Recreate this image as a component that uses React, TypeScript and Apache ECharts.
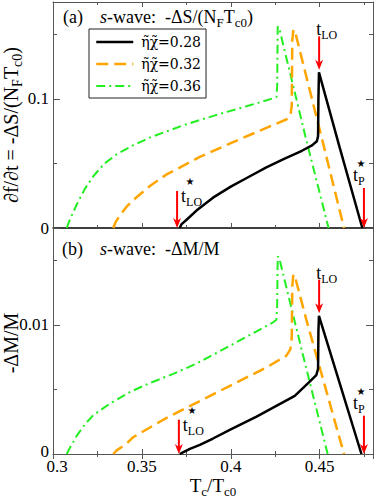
import React, { useEffect, useRef } from "react";
import * as echarts from "echarts";

// ---------- data ----------
const seriesNames = ["η̃χ̃=0.28", "η̃χ̃=0.32", "η̃χ̃=0.36"];
const seriesColors = ["#000000", "#ffa500", "#22ee22"];

// panel (a): -ΔS/(N_F T_c0) vs T_c/T_c0
const entropy028: [number, number][] = [
  [0.3713, 0], [0.3722, 0.0028], [0.375, 0.0062], [0.3807, 0.0135], [0.39, 0.0235],
  [0.40, 0.032], [0.41, 0.0395], [0.42, 0.047], [0.43, 0.0535], [0.44, 0.0598],
  [0.4457, 0.064], [0.4484, 0.0672], [0.4491, 0.071], [0.4493, 0.1], [0.4496, 0.1205],
  [0.4612, 0.0626], [0.474, 0],
];
const entropy032: [number, number][] = [
  [0.3339, 0], [0.3352, 0.0045], [0.3375, 0.0095], [0.3414, 0.0165], [0.345, 0.0215],
  [0.3545, 0.0325], [0.3639, 0.0415], [0.3826, 0.055], [0.4013, 0.0665], [0.42, 0.0775],
  [0.4312, 0.084], [0.4336, 0.0875], [0.4343, 0.095], [0.4346, 0.145], [0.4352, 0.1535],
  [0.436, 0.153], [0.4519, 0.0657], [0.4637, 0],
];
const entropy036: [number, number][] = [
  [0.3077, 0], [0.3092, 0.0055], [0.3113, 0.012], [0.3133, 0.018], [0.318, 0.0305],
  [0.3226, 0.04], [0.329, 0.05], [0.3358, 0.057], [0.345, 0.064], [0.3545, 0.07],
  [0.3732, 0.0795], [0.392, 0.0876], [0.4107, 0.095], [0.424, 0.1005], [0.4257, 0.1015],
  [0.4261, 0.11], [0.4264, 0.156], [0.4272, 0.155], [0.4425, 0.068], [0.455, 0],
];

// panel (b): -ΔM/M vs T_c/T_c0
const magnet028: [number, number][] = [
  [0.3713, 0], [0.3728, 0.0001], [0.377, 0.0004], [0.3826, 0.0007], [0.39, 0.0012],
  [0.40, 0.0019], [0.4145, 0.0029], [0.436, 0.0045], [0.4444, 0.0056], [0.4481, 0.0061],
  [0.4491, 0.0066], [0.4493, 0.0095], [0.4496, 0.0107], [0.4612, 0.0055], [0.4735, 0],
];
const magnet032: [number, number][] = [
  [0.3339, 0], [0.336, 0.0003], [0.3414, 0.0008], [0.3451, 0.0013], [0.3526, 0.0019],
  [0.3639, 0.0028], [0.3826, 0.0041], [0.4013, 0.0054], [0.42, 0.0067], [0.4312, 0.0076],
  [0.4335, 0.0081], [0.4343, 0.009], [0.4346, 0.013], [0.4352, 0.0139], [0.436, 0.0138],
  [0.4425, 0.0104], [0.4637, 0],
];
const magnet036: [number, number][] = [
  [0.3077, 0], [0.3092, 0.0004], [0.3113, 0.0009], [0.3133, 0.0014], [0.318, 0.0023],
  [0.3226, 0.003], [0.332, 0.0039], [0.3433, 0.0048], [0.3545, 0.0055], [0.3676, 0.0062],
  [0.3807, 0.007], [0.3957, 0.0081], [0.4145, 0.0095], [0.4238, 0.0102], [0.4257, 0.0104],
  [0.4261, 0.0115], [0.4264, 0.0153], [0.4272, 0.0152], [0.44, 0.008], [0.4545, 0],
];

const xTicks = [0.3, 0.35, 0.4, 0.45];
const xTickLabels = ["0.3", "0.35", "0.4", "0.45"];
const yTicksA = [0, 0.1];
const yTickLabelsA = ["0", "0.1"];
const yTicksB = [0, 0.01];
const yTickLabelsB = ["0", "0.01"];

// arrows: [x, yFrom, yTip]
const arrowsA = { tLOstar: [0.3698, 0.0287, 0], tLO: [0.4497, 0.1484, 0.1225], tP: [0.4749, 0.031, 0] };
const arrowsB = { tLOstar: [0.3708, 0.00266, 0], tLO: [0.4497, 0.0135, 0.0109], tP: [0.4749, 0.00297, 0] };

// ---------- helpers ----------
const FONT = "'Liberation Serif', 'Times New Roman', serif";
const AX = "#555";

const lineTypes: any[] = ["solid", [12, 6], [9, 4, 2, 4]];
const lineWidths = [2.5, 2.5, 2];

// labels at the panel corner get a small nudge style (first x label / first y label of panel b)
const pickLabel = (ticks: number[], labels: string[], firstStyle?: string) => (v: number) => {
  const i = ticks.findIndex((t) => Math.abs(t - v) < 1e-9);
  if (i < 0) return "";
  if (i === 0 && firstStyle) return `{${firstStyle}|${labels[i]}}`;
  return labels[i];
};

const subRich = (main: number, sub: number, pad: number) => ({
  m: { fontFamily: FONT, fontSize: main, fill: "#000" },
  i: { fontFamily: FONT, fontSize: main, fontStyle: "italic", fill: "#000" },
  s: { fontFamily: FONT, fontSize: sub, fill: "#000", padding: [pad, 0, 0, 0] },
});

function xAxisDef(gridIndex: number, position: "top" | "bottom", labels: boolean, line: any) {
  return {
    type: "value",
    gridIndex,
    position,
    min: 0.3,
    max: 0.48,
    interval: 0.05,
    axisLine: line,
    axisTick: { show: true, inside: true, length: 5, lineStyle: { color: AX } },
    minorTick: { show: true, splitNumber: 2, length: 3, lineStyle: { color: AX } },
    axisLabel: {
      show: labels,
      showMaxLabel: false,
      margin: 6,
      lineHeight: 12,
      fontFamily: FONT,
      fontSize: 17,
      color: "#000",
      formatter: pickLabel(xTicks, xTickLabels, "first"),
      rich: {
        first: { fontFamily: FONT, fontSize: 17, color: "#000", lineHeight: 12, padding: [0, 0, 0, 8] },
      },
    },
    splitLine: { show: false },
  };
}

function yAxisDef(gridIndex: number, position: "left" | "right", max: number, interval: number, labels: boolean, ticks: number[], tl: string[], nudge: boolean) {
  return {
    type: "value",
    gridIndex,
    position,
    min: 0,
    max,
    interval,
    axisLine: { show: true, onZero: false, lineStyle: { color: AX, width: 1 } },
    axisTick: { show: true, inside: true, length: 7, lineStyle: { color: AX } },
    minorTick: { show: true, splitNumber: 2, length: 4, lineStyle: { color: AX } },
    axisLabel: {
      show: labels,
      showMaxLabel: false,
      margin: 4,
      lineHeight: 12,
      fontFamily: FONT,
      fontSize: 17,
      color: "#000",
      formatter: pickLabel(ticks, tl, nudge ? "first" : undefined),
      rich: {
        first: { fontFamily: FONT, fontSize: 17, color: "#000", lineHeight: 12, padding: [0, 0, 6, 0] },
      },
    },
    splitLine: { show: false },
  };
}

export default function App() {
  const ref = useRef<HTMLDivElement>(null);

  useEffect(() => {
    if (!ref.current) return;
    const chart = echarts.init(ref.current, null, { renderer: "svg" });

    const dataA = [entropy028, entropy032, entropy036];
    const dataB = [magnet028, magnet032, magnet036];

    const mkSeries = (data: [number, number][], k: number, axisIndex: number) => ({
      type: "line",
      name: seriesNames[k],
      xAxisIndex: axisIndex,
      yAxisIndex: axisIndex,
      data,
      symbol: "none",
      showSymbol: false,
      clip: true,
      lineStyle: { color: seriesColors[k], width: lineWidths[k], type: lineTypes[k] },
      itemStyle: { color: seriesColors[k] },
      z: 3 - k,
    });

    const series = [
      ...dataA.map((d, k) => mkSeries(d, k, 0)),
      ...dataB.map((d, k) => mkSeries(d, k, 2)),
    ];

    chart.setOption({
      animation: false,
      backgroundColor: "#fff",
      grid: [
        { left: 53, top: 2, width: 320, height: 226 },
        { left: 53, top: 228, width: 320, height: 226 },
      ],
      xAxis: [
        xAxisDef(0, "bottom", false, { show: true, onZero: false, lineStyle: { color: "#000", width: 1.5 } }),
        xAxisDef(0, "top", false, { show: true, onZero: false, lineStyle: { color: AX, width: 1 } }),
        xAxisDef(1, "bottom", true, { show: true, onZero: false, lineStyle: { color: AX, width: 1 } }),
        xAxisDef(1, "top", false, { show: false }),
      ],
      yAxis: [
        yAxisDef(0, "left", 0.175, 0.1, true, yTicksA, yTickLabelsA, false),
        yAxisDef(0, "right", 0.175, 0.1, false, yTicksA, yTickLabelsA, false),
        yAxisDef(1, "left", 0.0175, 0.01, true, yTicksB, yTickLabelsB, true),
        yAxisDef(1, "right", 0.0175, 0.01, false, yTicksB, yTickLabelsB, false),
      ],
      legend: {
        show: true,
        data: seriesNames,
        orient: "vertical",
        left: 89,
        top: 29,
        padding: [6, 5, 5, 6],
        itemWidth: 37,
        itemHeight: 14,
        itemGap: 8,
        borderColor: "#222",
        borderWidth: 1,
        selectedMode: false,
        lineStyle: { width: "inherit" },
        itemStyle: { opacity: 0 },
        textStyle: { fontFamily: "'DejaVu Serif', serif", fontSize: 14, color: "#000", padding: [0, 0, 0, 3] },
      },
      series,
    });

    const px = (si: number, x: number, y: number) => chart.convertToPixel({ seriesIndex: si }, [x, y]) as number[];

    const graphics: any[] = [];
    const RED = "#ff0000";

    const arrow = (si: number, a: number[]) => {
      const [x, yTop] = px(si, a[0], a[1]);
      const [, yTip] = px(si, a[0], a[2]);
      graphics.push({
        type: "line",
        shape: { x1: x, y1: yTop, x2: x, y2: yTip - 7 },
        style: { stroke: RED, lineWidth: 2 },
        z: 100,
      });
      graphics.push({
        type: "polygon",
        shape: { points: [[x, yTip], [x - 4, yTip - 10], [x, yTip - 7], [x + 4, yTip - 10]] },
        style: { fill: RED },
        z: 100,
      });
      return [x, yTop];
    };

    const label = (x: number, y: number, sub: string) => {
      graphics.push({
        type: "text",
        x,
        y,
        z: 100,
        style: {
          text: `{m|t}{s|${sub}}`,
          rich: subRich(18, 12, 12),
          align: "left",
          verticalAlign: "middle",
        },
      });
    };
    const star = (x: number, y: number) => {
      graphics.push({
        type: "text",
        x,
        y,
        z: 100,
        style: { text: "★", fontFamily: "'DejaVu Sans', sans-serif", fontSize: 10, fill: "#000", align: "center", verticalAlign: "middle" },
      });
    };

    const annotate = (si: number, arr: any) => {
      const [ax1, at1] = arrow(si, arr.tLOstar);
      label(ax1 + 4, at1 + 5, "LO");
      star(ax1 + 13, at1 - 9);
      const [ax2, at2] = arrow(si, arr.tLO);
      label(ax2 - 3, at2 - 7, "LO");
      const [ax3, at3] = arrow(si, arr.tP);
      label(ax3 - 11, at3 - 13, "P");
      star(ax3 - 3, at3 - 24);
    };
    annotate(0, arrowsA);
    annotate(3, arrowsB);

    // panel titles
    const plain = { fontFamily: FONT, fontSize: 18, fill: "#000", verticalAlign: "middle", align: "left" };
    graphics.push({ type: "text", x: 63, y: 17, z: 100, style: { ...plain, text: "(a)" } });
    graphics.push({
      type: "text", x: 100, y: 17, z: 100,
      style: { text: "{i|s}{m|-wave:  -ΔS/(N}{s|F}{m|T}{s|c0}{m|)}", rich: subRich(18, 13, 10), align: "left", verticalAlign: "middle" },
    });
    graphics.push({ type: "text", x: 62, y: 248.5, z: 100, style: { ...plain, text: "(b)" } });
    graphics.push({
      type: "text", x: 100, y: 248.5, z: 100,
      style: { text: "{i|s}{m|-wave:  -ΔM/M}", rich: subRich(18, 13, 10), align: "left", verticalAlign: "middle" },
    });

    // axis titles
    graphics.push({
      type: "text", x: 213, y: 485, z: 100,
      style: { text: "{m|T}{s|c}{m|/T}{s|c0}", rich: subRich(19, 13, 12), align: "center", verticalAlign: "middle" },
    });
    graphics.push({
      type: "text", x: 11, y: 125, rotation: Math.PI / 2, z: 100,
      style: { text: "{m|∂f/∂t = -ΔS/(N}{s|F}{m|T}{s|c0}{m|)}", rich: subRich(20, 14, 12), align: "center", verticalAlign: "middle" },
    });
    graphics.push({
      type: "text", x: 11, y: 343, rotation: Math.PI / 2, z: 100,
      style: { text: "{m|-ΔM/M}", rich: subRich(20, 14, 12), align: "center", verticalAlign: "middle" },
    });

    chart.setOption({ graphic: graphics });

    return () => chart.dispose();
  }, []);

  return <div ref={ref} style={{ width: 374, height: 499, position: "absolute", left: 0, top: 0 }} />;
}
